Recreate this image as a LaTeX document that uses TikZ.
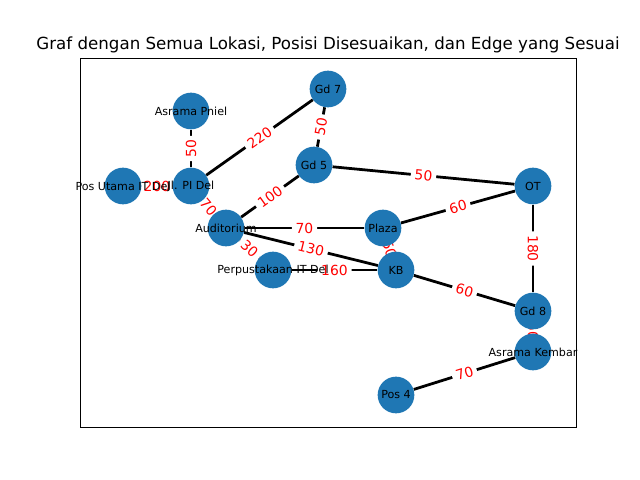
\documentclass[tikz,border=0pt]{standalone}
\usepackage{fontspec}
\setmainfont{DejaVu Sans}
\definecolor{nodeblue}{HTML}{1F77B4}
\pgfdeclarelayer{bglayer}
\pgfdeclarelayer{edgelayer}
\pgfdeclarelayer{textlayer}
\pgfsetlayers{bglayer,edgelayer,main,textlayer}
\tikzset{
  vertex/.style={circle, fill=nodeblue, minimum size=26.4pt, inner sep=0pt},
  vlabel/.style={font=\fontsize{8}{9.6}\selectfont, text=black, inner sep=0pt},
  edgeline/.style={line width=2pt, black},
  elabel/.style={font=\fontsize{10}{12}\selectfont, text=red, fill=white, inner xsep=2.8pt, inner ysep=2pt, rounded corners=2pt, sloped},
  frame/.style={line width=0.8pt, black},
  titlestyle/.style={font=\fontsize{12}{14.4}\selectfont, text=black, inner sep=0pt}
}
\begin{document}
\begin{tikzpicture}[x=0.72pt, y=-0.72pt]
\useasboundingbox (0,0) rectangle (640,480);
\begin{pgfonlayer}{bglayer}
\fill[white] (0,0) rectangle (640,480);
\end{pgfonlayer}
\node[frame, draw, minimum width=357.12pt, minimum height=265.68pt, inner sep=0pt, anchor=north west] (axes) at (80,57.6) {};
\node[titlestyle, anchor=base] (title) at (328,49) {Graf dengan Semua Lokasi, Posisi Disesuaikan, dan Edge yang Sesuai};

\foreach \n/\x/\y in {gd7/328/89, pniel/191/111, gd5/314/165, posutama/123/186, jl/191/186, ot/533/186, aud/226/228, plaza/383/228, perpus/273/270, kb/396/270, gd8/533/311, kembar/533/352, pos4/396/395}
  \node[vertex] (\n) at (\x,\y) {};

\begin{pgfonlayer}{textlayer}
\foreach \n/\t in {gd7/Gd 7, pniel/Asrama Pniel, gd5/Gd 5, posutama/Pos Utama IT Del, jl/Jl. PI Del, ot/OT, aud/Auditorium, plaza/Plaza, perpus/Perpustakaan IT Del, kb/KB, gd8/Gd 8, kembar/Asrama Kembar, pos4/Pos 4}
  \node[vlabel] (t\n) at (\n) {\t};
\end{pgfonlayer}

\begin{pgfonlayer}{edgelayer}
\foreach \a/\b/\w in {jl/pniel/50, posutama/jl/200, jl/gd7/220, jl/aud/70, gd5/gd7/50, aud/gd5/100, gd5/ot/50, aud/plaza/70, aud/kb/130, aud/perpus/30, perpus/kb/160, plaza/ot/60, plaza/kb/50, kb/gd8/60, ot/gd8/180, gd8/kembar/50, pos4/kembar/70}
  \draw[edgeline] (\a) -- (\b);
\foreach \a/\b/\w in {jl/pniel/50, posutama/jl/200, jl/gd7/220, jl/aud/70, gd5/gd7/50, aud/gd5/100, gd5/ot/50, aud/plaza/70, aud/kb/130, aud/perpus/30, perpus/kb/160, plaza/ot/60, plaza/kb/50, kb/gd8/60, ot/gd8/180, gd8/kembar/50, pos4/kembar/70}
  \path (\a.center) -- (\b.center) node[midway, elabel] {\w};
\end{pgfonlayer}
\end{tikzpicture}
\end{document}
